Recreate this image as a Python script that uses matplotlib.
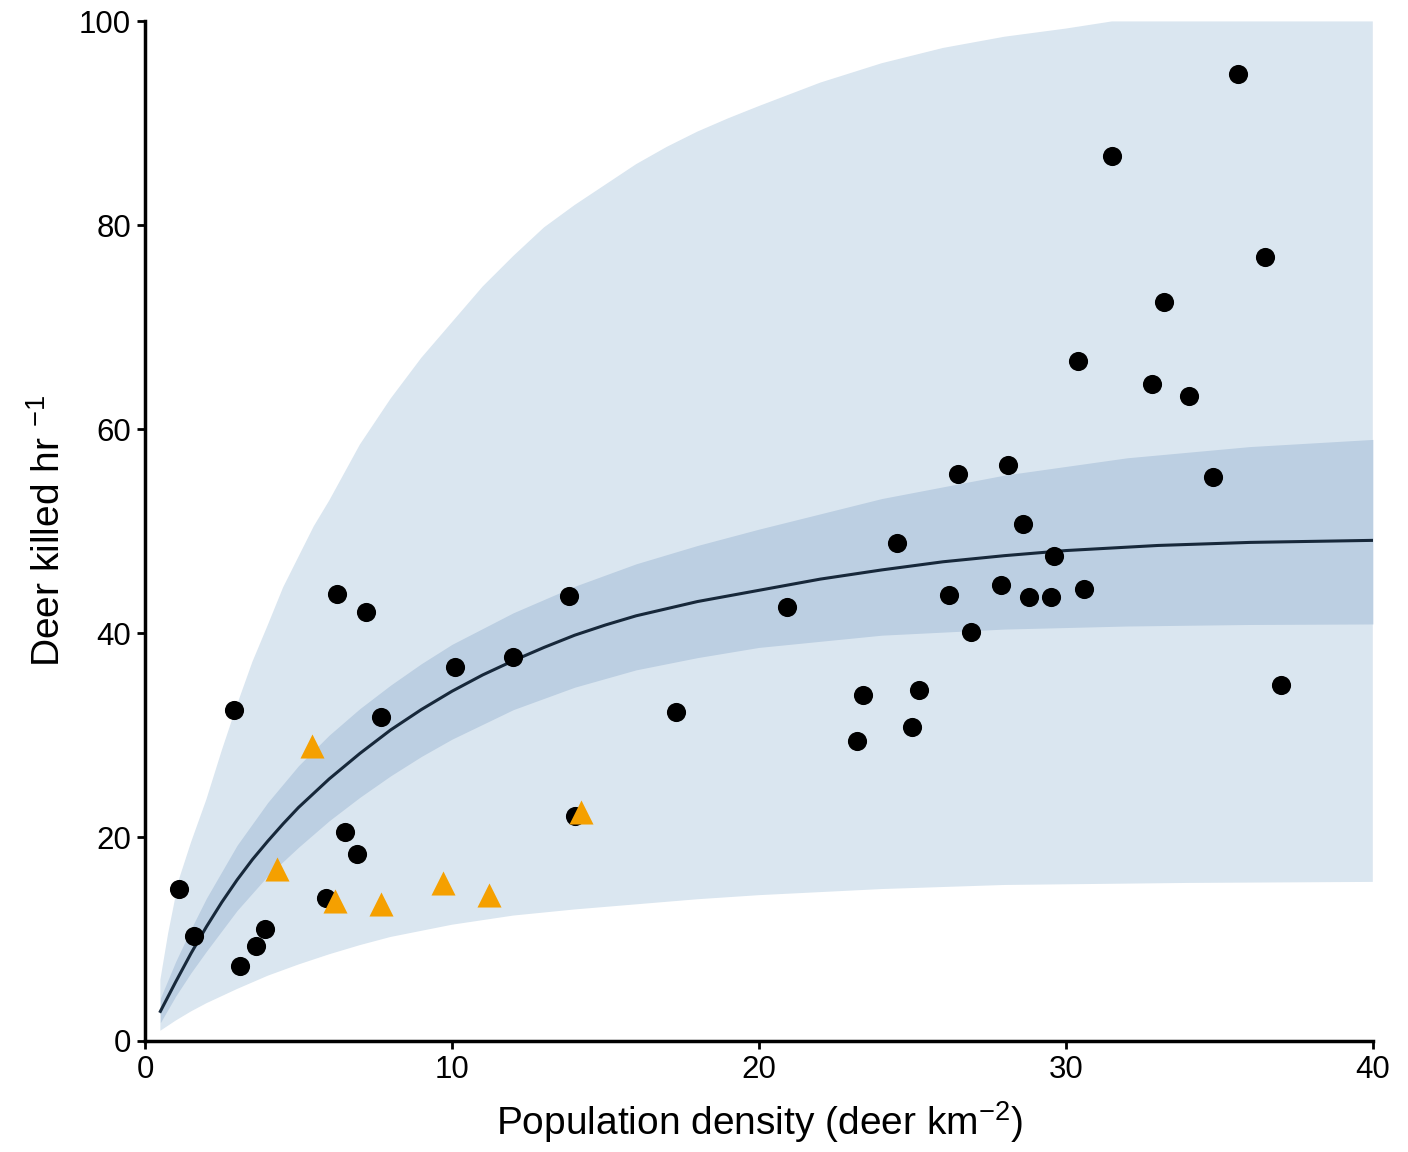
import numpy as np
import matplotlib.pyplot as plt

plt.rcParams['font.family'] = ['Liberation Sans', 'DejaVu Sans']
plt.rcParams['mathtext.fontset'] = 'custom'
plt.rcParams['mathtext.rm'] = 'Liberation Sans'
plt.rcParams['mathtext.it'] = 'Liberation Sans'

# fitted curve
curve_x = [0.5, 1.0, 1.5, 2.0, 2.5, 3.0, 3.5, 4.0, 4.5, 5.0, 5.5, 6.0, 7.0, 8.0, 9.0, 10.0, 11.0, 12.0,
           13.0, 14.0, 15.0, 16.0, 18.0, 20.0, 22.0, 24.0, 26.0, 28.0, 30.0, 33.0, 36.0, 40.0]
curve_y = [2.9, 5.8, 8.6, 11.2, 13.6, 15.8, 17.8, 19.6, 21.3, 22.9, 24.3, 25.7, 28.2, 30.5, 32.5, 34.3, 35.9, 37.3,
           38.6, 39.8, 40.8, 41.7, 43.1, 44.2, 45.3, 46.2, 47.0, 47.6, 48.1, 48.6, 48.9, 49.1]

# confidence band (inner)
ci_x = [0.5, 1.0, 1.5, 2.0, 3.0, 4.0, 5.0, 6.0, 7.0, 8.0, 9.0, 10.0, 12.0, 14.0, 16.0, 18.0, 20.0,
        24.0, 28.0, 32.0, 36.0, 40.0]
ci_up = [4.2, 7.8, 11.0, 14.0, 19.2, 23.4, 27.0, 30.0, 32.6, 34.9, 37.0, 38.9, 42.0, 44.6, 46.8, 48.6, 50.2,
         53.2, 55.5, 57.2, 58.3, 59.0]
ci_lo = [1.8, 4.4, 6.7, 8.8, 12.8, 16.2, 19.0, 21.6, 23.9, 26.0, 27.9, 29.6, 32.5, 34.7, 36.4, 37.6, 38.6,
         39.8, 40.4, 40.7, 40.85, 40.9]

# prediction band (outer)
pi_up_x = [0.5, 0.75, 1.1, 1.5, 2.0, 2.5, 3.0, 3.5, 4.0, 4.5, 5.0, 5.5, 6.0, 7.0, 8.0, 9.0, 10.0, 11.0, 12.0,
           13.0, 14.0, 15.0, 16.0, 17.0, 18.0, 19.0, 20.0, 22.0, 24.0, 26.0, 28.0, 30.0, 31.5, 40.0]
pi_up_y = [6.0, 10.5, 15.8, 19.5, 23.7, 28.5, 33.0, 37.2, 40.8, 44.5, 47.5, 50.5, 53.0, 58.5, 63.0, 67.0, 70.5,
           74.0, 77.0, 79.8, 82.0, 84.0, 86.0, 87.7, 89.2, 90.5, 91.7, 94.0, 95.9, 97.4, 98.5, 99.3, 100.0, 100.0]
pi_lo_x = [0.5, 1.0, 1.5, 2.0, 3.0, 4.0, 5.0, 6.0, 7.0, 8.0, 10.0, 12.0, 14.0, 16.0, 18.0, 20.0, 24.0, 28.0,
           34.0, 40.0]
pi_lo_y = [1.0, 2.0, 2.9, 3.7, 5.1, 6.4, 7.5, 8.5, 9.4, 10.2, 11.4, 12.3, 12.9, 13.4, 13.9, 14.3, 14.9, 15.3,
           15.5, 15.6]

# observed points
circ_x = [1.1, 1.6, 2.9, 3.1, 3.6, 3.9, 5.9, 6.25, 6.5, 6.9, 7.2, 7.7, 10.1, 12.0, 13.8, 14.0, 17.3,
          20.9, 23.2, 23.4, 24.5, 25.0, 25.2, 26.2, 26.5, 26.9, 27.9, 28.1, 28.6, 28.8, 29.5, 29.6,
          30.6, 30.4, 31.5, 32.8, 33.2, 34.0, 34.8, 35.6, 36.5, 37.0]
circ_y = [14.9, 10.3, 32.5, 7.4, 9.3, 11.0, 14.0, 43.8, 20.5, 18.3, 42.1, 31.8, 36.7, 37.7, 43.6, 22.1, 32.3,
          42.6, 29.4, 33.9, 48.8, 30.8, 34.4, 43.7, 55.6, 40.1, 44.7, 56.5, 50.7, 43.5, 43.5, 47.6,
          44.3, 66.7, 86.8, 64.4, 72.5, 63.3, 55.3, 94.8, 76.9, 34.9]
tri_x = [4.3, 5.45, 6.2, 7.7, 9.7, 11.2, 14.2]
tri_y = [16.9, 28.9, 13.7, 13.4, 15.5, 14.3, 22.5]

fig = plt.figure(figsize=(14.08, 11.52), dpi=100)
ax = fig.add_axes([0.103, 0.0964, 0.872, 0.885])

ax.fill(np.r_[pi_up_x, pi_lo_x[::-1]], np.r_[pi_up_y, pi_lo_y[::-1]],
        color='#dae6f0', lw=0, zorder=1)
ax.fill_between(ci_x, ci_lo, ci_up, color='#bccfe2', lw=0, zorder=2)
ax.plot(curve_x, curve_y, color='#17283a', lw=2.2, zorder=3)

ax.scatter(circ_x, circ_y, s=190, c='black', marker='o', lw=0, zorder=4)
ax.scatter(tri_x, tri_y, s=300, c='#f5a000', marker='^', lw=0, zorder=5)

ax.set_xlim(0, 40)
ax.set_ylim(0, 100)
ax.set_xticks([0, 10, 20, 30, 40])
ax.set_yticks([0, 20, 40, 60, 80, 100])

for s in ['top', 'right']:
    ax.spines[s].set_visible(False)
for s in ['left', 'bottom']:
    ax.spines[s].set_linewidth(2.5)
ax.tick_params(direction='out', length=6, width=2, labelsize=22.5, pad=4)

ax.set_xlabel(r'Population density (deer km$^{-2}$)', fontsize=28, labelpad=10)
ax.set_ylabel(r'Deer killed hr $^{-1}$', fontsize=28, labelpad=8)

fig.savefig('out.png', dpi=100)
